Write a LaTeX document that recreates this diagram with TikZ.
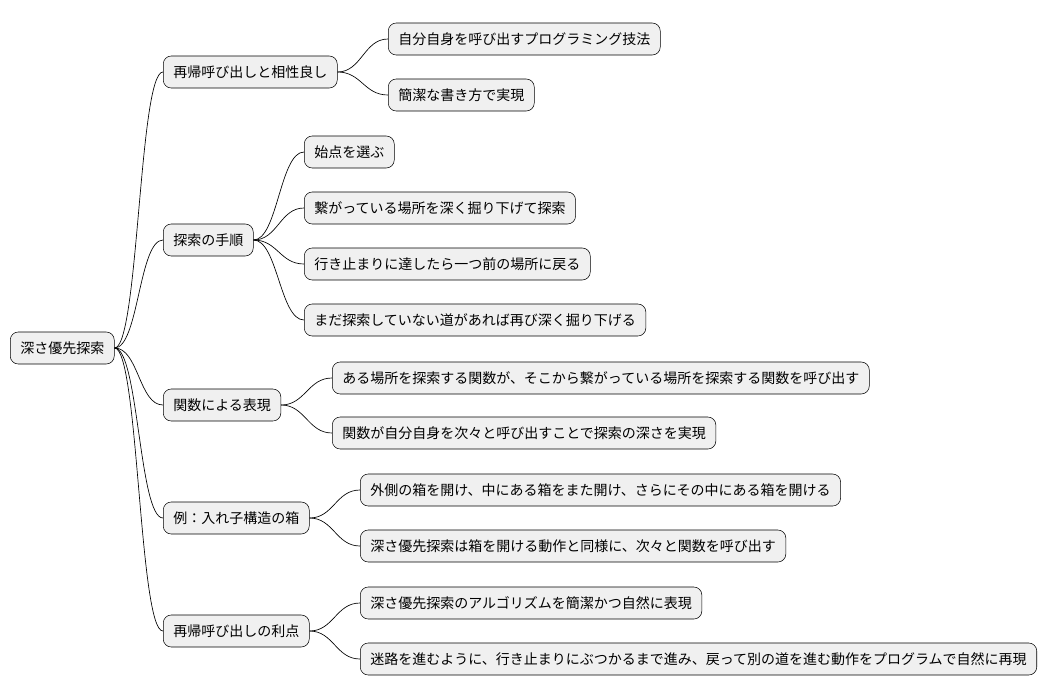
\documentclass[tikz,border=0pt]{standalone}
\usepackage{fontspec}
\setmainfont{Noto Sans CJK JP}
\usetikzlibrary{positioning}

\tikzset{
  topic/.style={draw=black, fill=black!6, rounded corners=6pt, anchor=west,
    minimum height=24pt, inner xsep=7.5pt, font=\fontsize{10.5}{12}\selectfont},
  branch/.style={black, line width=0.5pt}
}

\begin{document}
\begin{tikzpicture}[x=0.75pt, y=-0.75pt]
\useasboundingbox (0,0) rectangle (1048,696);

\node[topic] (root) at (10,348) {深さ優先探索};

\node[topic] (recur) at (163,72) {再帰呼び出しと相性良し};
\node[topic] (self) at (388,39) {自分自身を呼び出すプログラミング技法};
\node[topic] (brief) at (388,95) {簡潔な書き方で実現};

\node[topic] (steps) at (163,240) {探索の手順};
\node[topic] (start) at (304,152) {始点を選ぶ};
\node[topic] (deep) at (304,208) {繋がっている場所を深く掘り下げて探索};
\node[topic] (back) at (304,264) {行き止まりに達したら一つ前の場所に戻る};
\node[topic] (again) at (304,320) {まだ探索していない道があれば再び深く掘り下げる};

\node[topic] (func) at (163,405) {関数による表現};
\node[topic] (call) at (332,378) {ある場所を探索する関数が、そこから繋がっている場所を探索する関数を呼び出す};
\node[topic] (depth) at (332,433) {関数が自分自身を次々と呼び出すことで探索の深さを実現};

\node[topic] (boxes) at (163,518) {例：入れ子構造の箱};
\node[topic] (open) at (360,490) {外側の箱を開け、中にある箱をまた開け、さらにその中にある箱を開ける};
\node[topic] (same) at (360,546) {深さ優先探索は箱を開ける動作と同様に、次々と関数を呼び出す};

\node[topic] (merit) at (163,631) {再帰呼び出しの利点};
\node[topic] (algo) at (360,603) {深さ優先探索のアルゴリズムを簡潔かつ自然に表現};
\node[topic] (maze) at (360,659) {迷路を進むように、行き止まりにぶつかるまで進み、戻って別の道を進む動作をプログラムで自然に再現};

\foreach \a/\b in {root/recur, root/steps, root/func, root/boxes, root/merit,
    recur/self, recur/brief,
    steps/start, steps/deep, steps/back, steps/again,
    func/call, func/depth,
    boxes/open, boxes/same,
    merit/algo, merit/maze}
  \draw[branch] (\a.east) .. controls ([xshift=18pt]\a.east) and ([xshift=-18pt]\b.west) .. (\b.west);
\end{tikzpicture}
\end{document}
